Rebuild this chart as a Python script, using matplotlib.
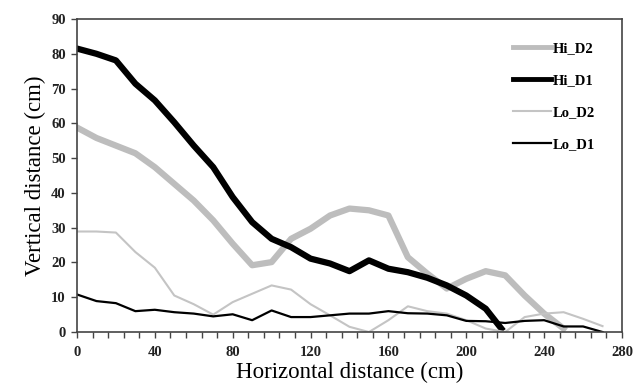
# Vertical vs horizontal distance profiles

import numpy as np
import matplotlib
matplotlib.use('Agg')
import matplotlib.pyplot as plt
from matplotlib.ticker import MultipleLocator

################################### Data #######################################

x_hi_d2 = [0, 10, 20, 30, 40, 50, 60, 70, 80, 90, 100, 110, 120, 130, 140, 150,
           160, 170, 180, 190, 200, 210, 220, 230, 240, 250]
hi_d2   = [58.8, 55.8, 53.6, 51.4, 47.4, 42.6, 37.8, 32.1, 25.4, 19.2, 20.1, 26.8,
           29.7, 33.5, 35.5, 35.0, 33.5, 21.5, 16.8, 12.5, 15.3, 17.5, 16.3, 10.5,
           5.3, 1.0]

x_hi_d1 = [0, 10, 20, 30, 40, 50, 60, 70, 80, 90, 100, 110, 120, 130, 140, 150,
           160, 170, 180, 190, 200, 210, 218]
hi_d1   = [81.5, 80.0, 78.1, 71.4, 66.6, 60.3, 53.6, 47.4, 38.8, 31.6, 26.8, 24.4,
           21.1, 19.7, 17.5, 20.6, 18.2, 17.2, 15.6, 13.4, 10.5, 6.7, 1.0]

x_lo = [0, 10, 20, 30, 40, 50, 60, 70, 80, 90, 100, 110, 120, 130, 140, 150,
        160, 170, 180, 190, 200, 210, 220, 230, 240, 250, 260, 270]
lo_d2 = [28.9, 28.9, 28.6, 23.0, 18.5, 10.5, 8.0, 5.0, 8.6, 11.0, 13.4, 12.2,
         8.0, 4.8, 1.5, 0.0, 3.4, 7.4, 6.0, 5.3, 3.4, 1.0, 0.0, 4.3, 5.3, 5.7,
         3.8, 1.7]
lo_d1 = [10.8, 8.9, 8.3, 6.0, 6.4, 5.7, 5.3, 4.5, 5.1, 3.4, 6.2, 4.3, 4.3, 4.8,
         5.3, 5.3, 6.0, 5.4, 5.3, 4.8, 3.2, 3.1, 2.6, 3.2, 3.4, 1.6, 1.6, 0.0]

################################### Plot #######################################

plt.rcParams['font.family'] = ['Liberation Serif', 'DejaVu Serif']

fig = plt.figure(figsize=(6.33, 3.92), dpi=100)
ax = fig.add_axes([0.1216, 0.153, 0.861, 0.7985])

ax.plot(x_hi_d2, hi_d2, color='#bdbdbd', lw=4.5, label='Hi_D2')
ax.plot(x_hi_d1, hi_d1, color='black', lw=4.5, label='Hi_D1')
ax.plot(x_lo, lo_d2, color='#c4c4c4', lw=1.5, label='Lo_D2')
ax.plot(x_lo, lo_d1, color='black', lw=1.6, label='Lo_D1')

ax.set_xlim(0, 280)
ax.set_ylim(0, 90)
ax.xaxis.set_major_locator(MultipleLocator(40))
ax.xaxis.set_minor_locator(MultipleLocator(8))
ax.yaxis.set_major_locator(MultipleLocator(10))

for s in ax.spines.values():
    s.set_color('#444444')
    s.set_linewidth(1.2)

ax.tick_params(axis='both', which='both', direction='out', color='#444444',
               width=1.0, length=4, labelsize=10.5, pad=4)
ax.tick_params(axis='x', pad=6)
for lab in ax.get_xticklabels() + ax.get_yticklabels():
    lab.set_fontweight('bold')
    lab.set_color('#222222')

ax.set_xlabel('Horizontal distance (cm)', fontsize=16.5, labelpad=2)
ax.set_ylabel('Vertical distance (cm)', fontsize=16.5, labelpad=4)

leg = ax.legend(loc='upper right', bbox_to_anchor=(0.975, 0.97), frameon=False,
                handlelength=2.6, handletextpad=0.15, labelspacing=1.3,
                prop={'size': 10.5, 'weight': 'bold'})
for h in leg.legend_handles[:2]:
    h.set_linewidth(3.5)

fig.savefig('out.png', dpi=100)
